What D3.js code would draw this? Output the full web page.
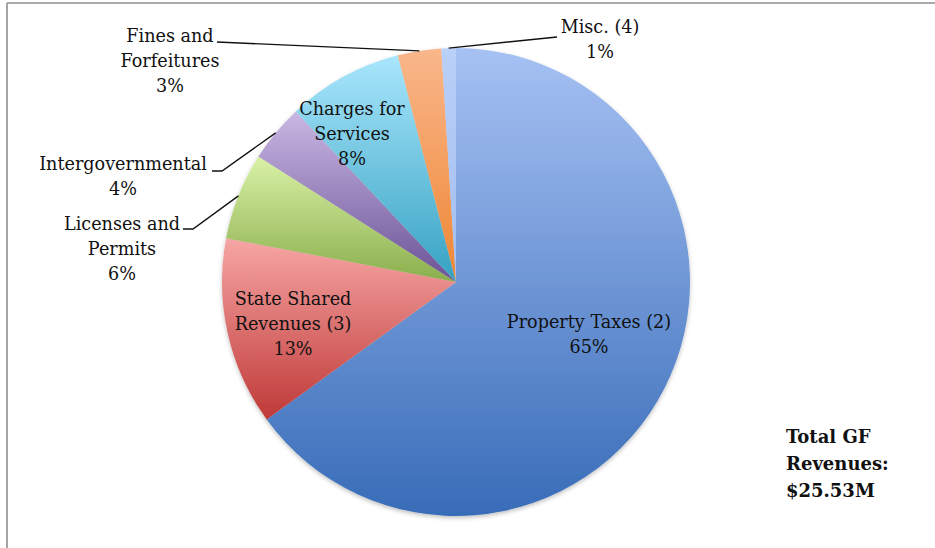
<!DOCTYPE html>
<html>
<head>
<meta charset="utf-8">
<script src="https://cdn.jsdelivr.net/npm/d3@7"></script>
<style>
  html, body { margin: 0; padding: 0; background: #fff; }
  svg { display: block; }
  text { font-family: "DejaVu Serif", "Liberation Serif", serif; fill: #111; }
</style>
</head>
<body>
<svg id="chart" width="935" height="548"></svg>
<script>
// General Fund revenue shares, in percent, clockwise from 12 o'clock
const categories = [
  "Property Taxes (2)",
  "State Shared Revenues (3)",
  "Licenses and Permits",
  "Intergovernmental",
  "Charges for Services",
  "Fines and Forfeitures",
  "Misc. (4)"
];
const shares = [65, 13, 6, 4, 8, 3, 1];
const totalLines = ["Total GF", "Revenues:", "$25.53M"];

// Label text lines per slice (the percentage is appended as the last line)
const labelLines = [
  ["Property Taxes (2)"],
  ["State Shared", "Revenues (3)"],
  ["Licenses and", "Permits"],
  ["Intergovernmental"],
  ["Charges for", "Services"],
  ["Fines and", "Forfeitures"],
  ["Misc. (4)"]
];

// Gradient stops (top colour, bottom colour) for each slice
const sliceColors = [
  ["#a6c1f3", "#386cb8"],
  ["#f6a6a5", "#bf3937"],
  ["#d9f1a6", "#8aae4c"],
  ["#c9b7e3", "#6b5296"],
  ["#a9e6fc", "#36a2c2"],
  ["#fab78b", "#ee8634"],
  ["#b9d0f7", "#a2bdf0"]
];

// Label placement: centre x, first baseline y; leader = polyline start points
const labelLayout = [
  { x: 589, y: 328 },
  { x: 293, y: 305 },
  { x: 122, y: 230, leader: [[183, 229], [193, 229]] },
  { x: 123, y: 170, leader: [[212, 171], [222, 171]] },
  { x: 352, y: 115 },
  { x: 170, y: 42,  leader: [[217, 42]] },
  { x: 600, y: 33,  leader: [[557, 37]] }
];

const svg = d3.select("#chart");
const W = 935, H = 548;
const cx = 456, cy = 282, R = 234;
const lineH = 25;

// Chart frame (top and left edges)
svg.append("line").attr("x1", 7).attr("y1", 3).attr("x2", W).attr("y2", 3)
  .attr("stroke", "#8f8f8f").attr("stroke-width", 1.6);
svg.append("line").attr("x1", 7).attr("y1", 3).attr("x2", 7).attr("y2", H)
  .attr("stroke", "#8f8f8f").attr("stroke-width", 1.6);

const defs = svg.append("defs");
const shadow = defs.append("filter").attr("id", "pieShadow")
  .attr("x", "-10%").attr("y", "-10%").attr("width", "120%").attr("height", "120%");
shadow.append("feDropShadow").attr("dx", 0).attr("dy", 2).attr("stdDeviation", 2)
  .attr("flood-color", "#000").attr("flood-opacity", 0.25);

sliceColors.forEach((c, i) => {
  const g = defs.append("linearGradient").attr("id", "grad" + i)
    .attr("x1", 0).attr("y1", 0).attr("x2", 0).attr("y2", 1);
  g.append("stop").attr("offset", "0%").attr("stop-color", c[0]);
  g.append("stop").attr("offset", "100%").attr("stop-color", c[1]);
});

const data = categories.map((name, i) => ({ name, value: shares[i], i }));

const pie = d3.pie().sort(null).value(d => d.value);
const arcs = pie(data);
const arc = d3.arc().innerRadius(0).outerRadius(R);

const pieG = svg.append("g").attr("transform", `translate(${cx},${cy})`)
  .attr("filter", "url(#pieShadow)");

pieG.selectAll("path.slice").data(arcs).join("path")
  .attr("class", "slice")
  .attr("d", arc)
  .attr("fill", d => `url(#grad${d.data.i})`);

// Leader lines run from the label to the rim at each slice's mid-angle
const lineGen = d3.line();
arcs.forEach(a => {
  const lay = labelLayout[a.data.i];
  if (!lay.leader) return;
  const mid = (a.startAngle + a.endAngle) / 2;
  const end = [cx + R * Math.sin(mid), cy - R * Math.cos(mid)];
  svg.append("path")
    .attr("d", lineGen(lay.leader.concat([end])))
    .attr("fill", "none").attr("stroke", "#111").attr("stroke-width", 1.4);
});

// Category labels with percentages
const labelsG = svg.append("g").attr("font-size", 17.6).attr("text-anchor", "middle");
arcs.forEach(a => {
  const lay = labelLayout[a.data.i];
  const lines = labelLines[a.data.i].concat([d3.format("d")(a.data.value) + "%"]);
  const t = labelsG.append("text").attr("x", lay.x).attr("y", lay.y);
  lines.forEach((ln, k) => {
    t.append("tspan").attr("x", lay.x).attr("dy", k === 0 ? 0 : lineH).text(ln);
  });
});

// Total annotation
const tot = svg.append("text").attr("x", 786).attr("y", 443)
  .attr("font-size", 18).attr("font-weight", "bold");
totalLines.forEach((ln, k) => {
  tot.append("tspan").attr("x", 786).attr("dy", k === 0 ? 0 : 27).text(ln);
});
</script>
</body>
</html>
